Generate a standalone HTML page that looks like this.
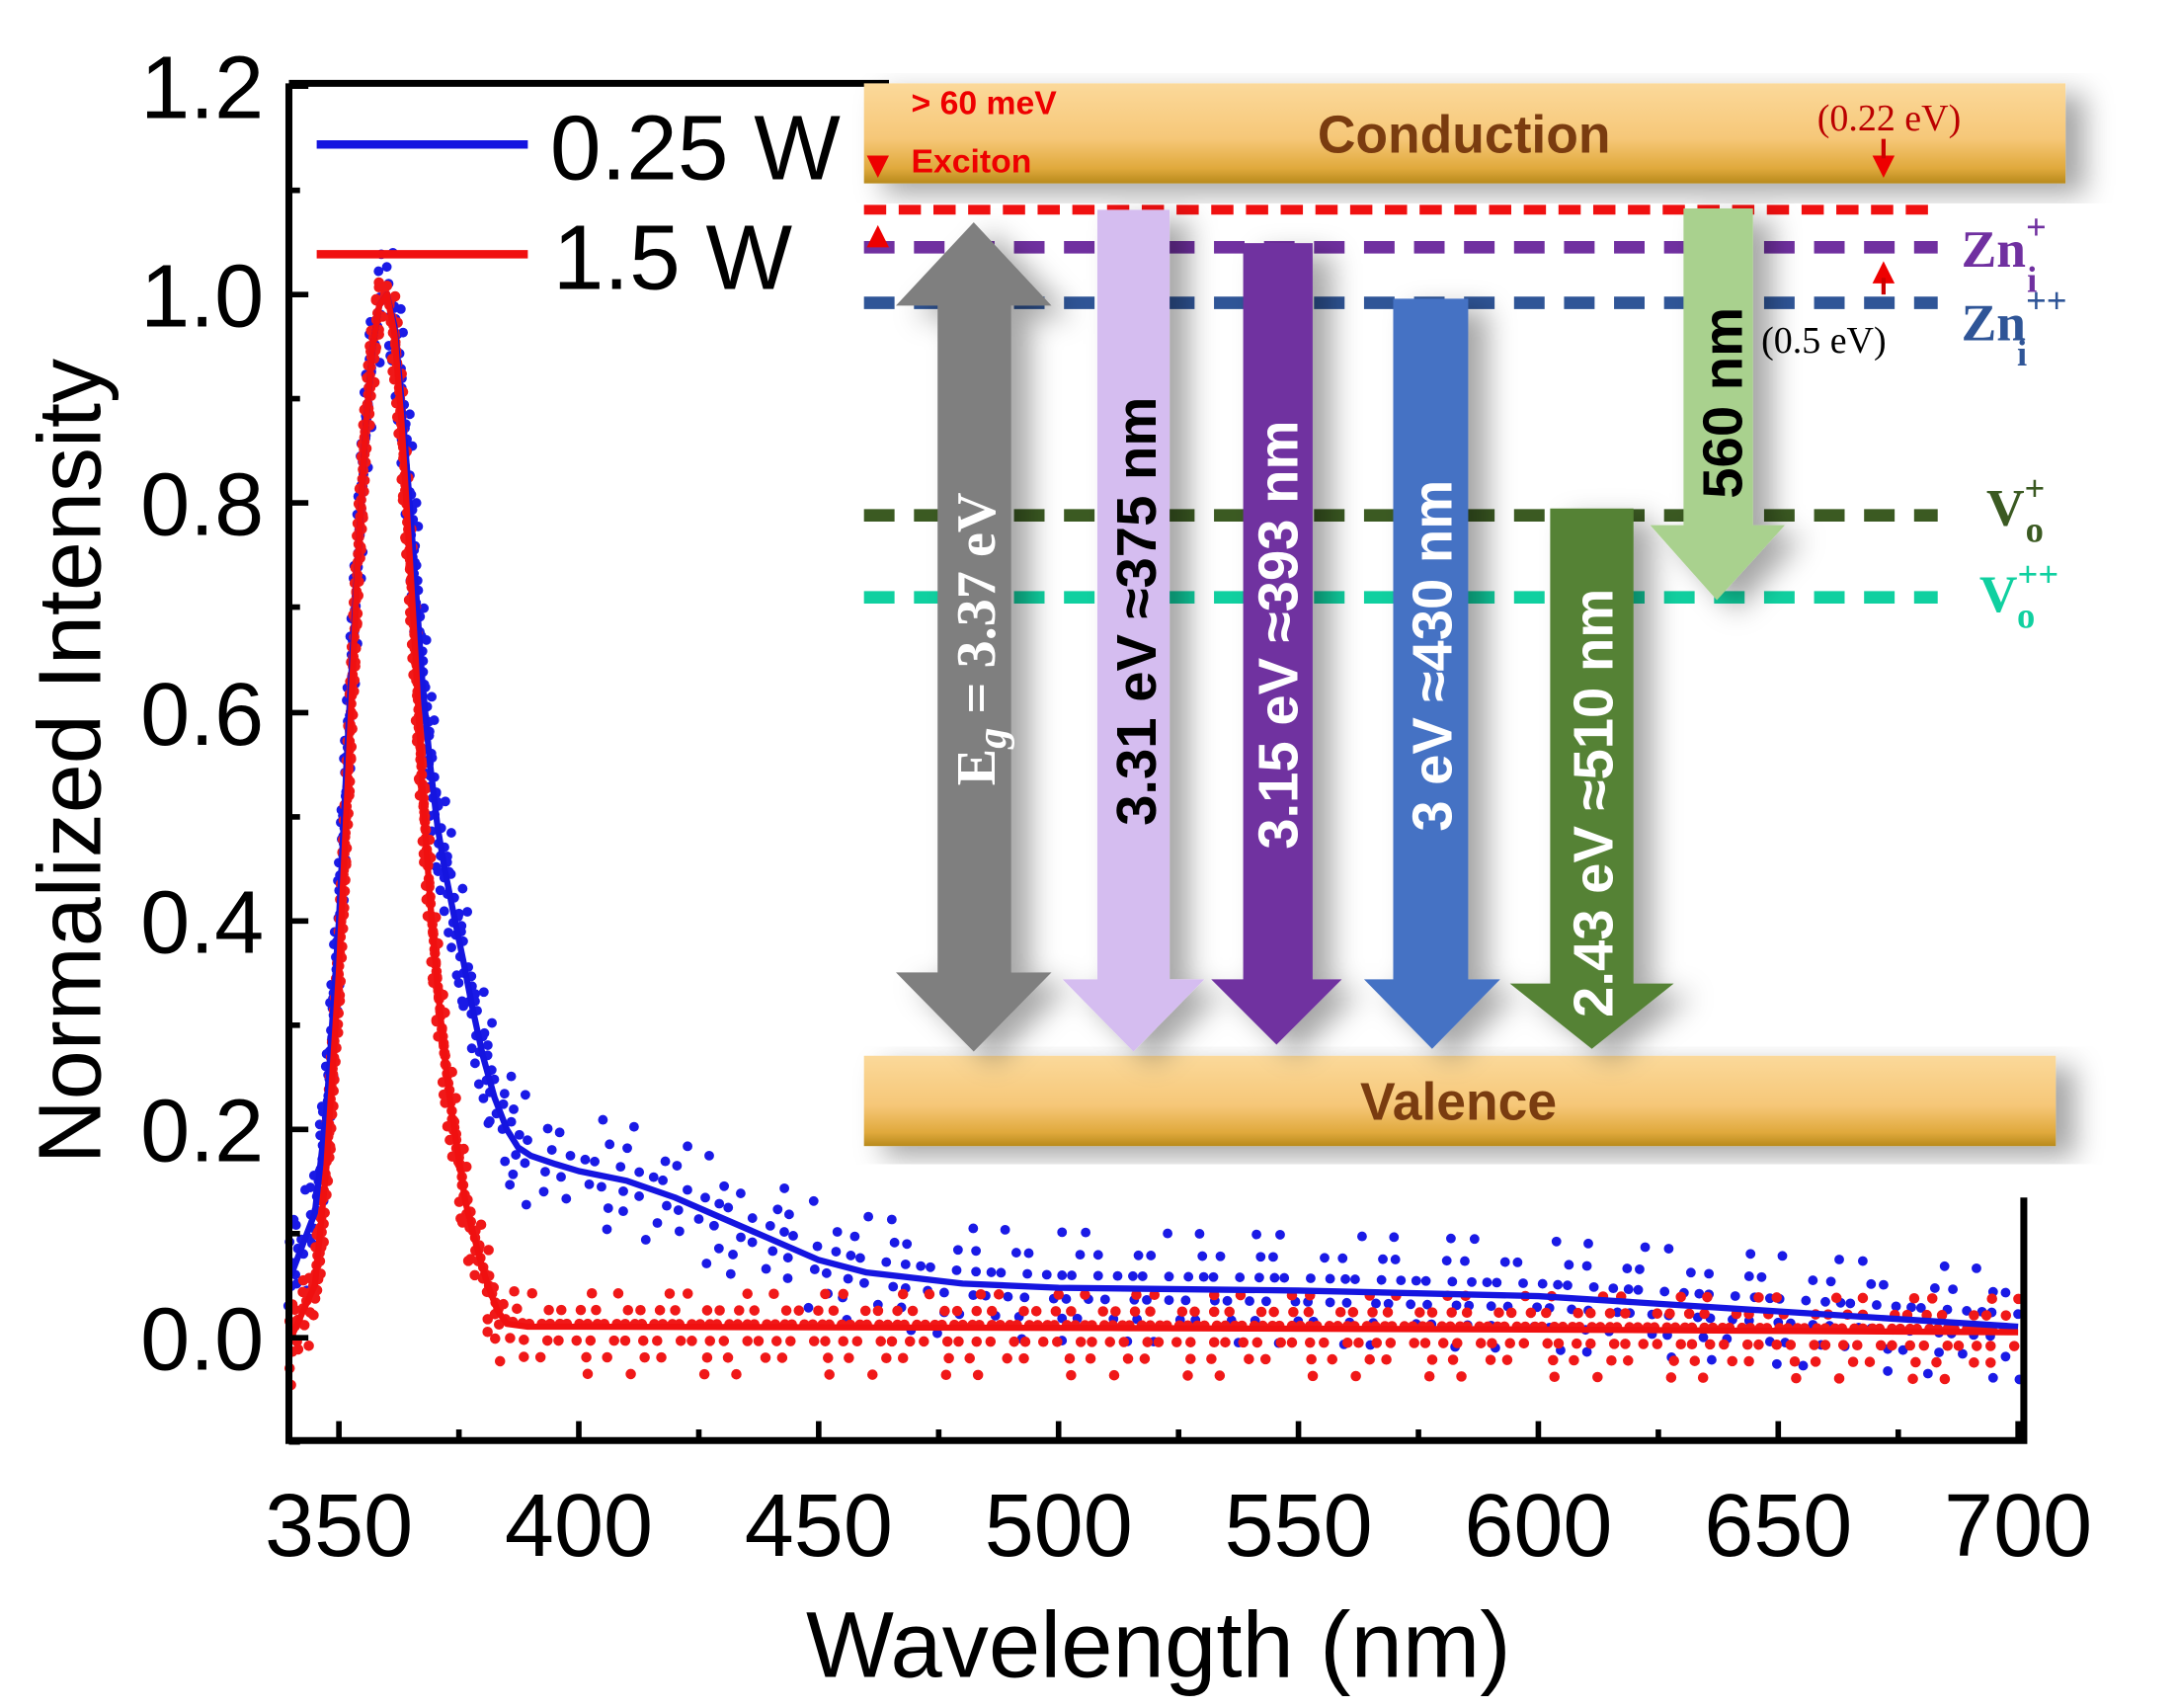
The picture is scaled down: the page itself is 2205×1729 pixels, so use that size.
<!DOCTYPE html>
<html><head><meta charset="utf-8"><style>html,body{margin:0;padding:0;background:#fff}svg{display:block}</style></head>
<body>
<svg width="2205" height="1729" viewBox="0 0 1568 1229.5" xmlns="http://www.w3.org/2000/svg" font-family="Liberation Sans, sans-serif">
<defs>
<linearGradient id="band" x1="0" y1="0" x2="0" y2="1">
<stop offset="0" stop-color="#fbd99a"/><stop offset="0.55" stop-color="#f6c778"/><stop offset="0.85" stop-color="#e0a93c"/><stop offset="1" stop-color="#b88a1c"/></linearGradient>
<filter id="sh" x="-30%" y="-10%" width="170%" height="130%"><feDropShadow dx="14" dy="8" stdDeviation="10" flood-color="#000" flood-opacity="0.35"/></filter>
<path id="bc" d="M209.5,918 L226.7,873 L235,800 L244,663 L251,520 L257.8,400 L263,310 L268.2,250 L273,220 L278.5,212 L284,235 L288.9,287 L294,350 L299.3,422 L304,490 L309.6,550 L315,595 L320,625 L327,660 L333.8,693 L340,725 L347.6,760 L356,790 L364.9,813 L373,826 L382.2,832 L400,838 L416.7,843 L451.2,850 L485.8,862 L520.3,877 L554.9,892 L589.4,907 L623.9,916 L693,924 L762.1,927 L934.8,929 L1107.5,933 L1280.2,944 L1452.9,955"/>
<path id="rc" d="M209.5,963 L226.7,925 L235,840 L244,700 L251,550 L257.8,400 L263,310 L268.2,250 L273,220 L278.5,212 L284,240 L288.9,302 L294,385 L299.3,475 L304,565 L309.6,648 L315,710 L320,760 L325,800 L330.4,835 L335,865 L340.7,888 L346,908 L351.1,925 L358,943 L364.9,953 L380,955 L416.7,955 L800,956 L1100,957 L1452.9,959"/>
</defs>
<rect width="1568" height="1230" fill="#fff"/>
<g fill="none" stroke="#1a1ae6" stroke-linecap="round" stroke-width="7">
<use href="#bc" transform="translate(2,-40)" stroke-dasharray="0 23 0 41 0 17 0 59"/>
<use href="#bc" transform="translate(-1,-24)" stroke-dasharray="0 13 0 29 0 9 0 37"/>
<use href="#bc" transform="translate(1,-9)" stroke-dasharray="0 11 0 7 0 19 0 14"/>
<use href="#bc" transform="translate(0,8)" stroke-dasharray="0 9 0 16 0 12 0 21"/>
<use href="#bc" transform="translate(-2,22)" stroke-dasharray="0 17 0 31 0 11 0 26"/>
<use href="#bc" transform="translate(1,38)" stroke-dasharray="0 29 0 47 0 19 0 61"/>
</g>
<g fill="none" stroke="#f01818" stroke-linecap="round" stroke-width="7.5">
<use href="#rc" transform="translate(1,-24)" stroke-dasharray="0 19 0 37 0 13 0 43"/>
<use href="#rc" transform="translate(-1,-12)" stroke-dasharray="0 9 0 14 0 11 0 23"/>
<use href="#rc" transform="translate(0,-2)" stroke-dasharray="0 7 0 5 0 9 0 6"/>
<use href="#rc" transform="translate(1,10)" stroke-dasharray="0 8 0 13 0 10 0 17"/>
<use href="#rc" transform="translate(-1,22)" stroke-dasharray="0 15 0 27 0 12 0 33"/>
<use href="#rc" transform="translate(0,34)" stroke-dasharray="0 31 0 53 0 23 0 67"/>
</g>
<use href="#bc" fill="none" stroke="#1515e0" stroke-width="4.5" stroke-linejoin="round"/>
<use href="#rc" fill="none" stroke="#f01010" stroke-width="4.5" stroke-linejoin="round"/>
<g stroke="#000" stroke-width="5" fill="none">
<path d="M208,60 H640 M208,60 V1037 H1457 V862"/>
</g>
<g stroke="#000" stroke-width="4">
<path d="M208,62H222 M208,212H222 M208,362H222 M208,513H222 M208,663H222 M208,813H222 M208,963H222"/>
<path d="M208,137H216 M208,287H216 M208,437H216 M208,588H216 M208,738H216 M208,888H216 M208,1038H216"/>
<path d="M244,1037V1023 M416.7,1037V1023 M589.4,1037V1023 M762.1,1037V1023 M934.8,1037V1023 M1107.5,1037V1023 M1280.2,1037V1023 M1452.9,1037V1023"/>
<path d="M330.4,1037V1029 M503.1,1037V1029 M675.8,1037V1029 M848.5,1037V1029 M1021.2,1037V1029 M1193.9,1037V1029 M1366.6,1037V1029"/>
</g>
<g font-size="64" text-anchor="end">
<text x="190" y="85">1.2</text><text x="190" y="235">1.0</text><text x="190" y="385">0.8</text><text x="190" y="536">0.6</text><text x="190" y="686">0.4</text><text x="190" y="836">0.2</text><text x="190" y="986">0.0</text>
</g>
<g font-size="64" text-anchor="middle">
<text x="244" y="1120">350</text><text x="416.7" y="1120">400</text><text x="589.4" y="1120">450</text><text x="762.1" y="1120">500</text><text x="934.8" y="1120">550</text><text x="1107.5" y="1120">600</text><text x="1280.2" y="1120">650</text><text x="1452.9" y="1120">700</text>
</g>
<text x="834" y="1207" font-size="67" text-anchor="middle">Wavelength (nm)</text>
<text transform="translate(72,548) rotate(-90)" font-size="64" text-anchor="middle">Normalized Intensity</text>
<line x1="228" y1="104" x2="380" y2="104" stroke="#1515e0" stroke-width="6"/>
<text x="396" y="129" font-size="66">0.25 W</text>
<line x1="228" y1="183" x2="380" y2="183" stroke="#f01010" stroke-width="6"/>
<text x="398" y="208" font-size="66">1.5 W</text>
<g font-family="Liberation Sans Narrow, Liberation Sans, sans-serif" font-weight="bold">
<rect x="622" y="60" width="865" height="72" fill="url(#band)" filter="url(#sh)"/>
<text x="1054" y="110" font-size="38" fill="#7a3c10" text-anchor="middle">Conduction</text>
<text x="656" y="82" font-size="24" fill="#e00">&gt; 60 meV</text>
<text x="656" y="124" font-size="24" fill="#e00">Exciton</text>
<text x="1360" y="94" font-size="27" fill="#b00" font-family="Liberation Serif, serif" font-weight="normal" text-anchor="middle">(0.22 eV)</text>
<rect x="622" y="760" width="858" height="65" fill="url(#band)" filter="url(#sh)"/>
<text x="1050" y="806" font-size="38" fill="#7a3c10" text-anchor="middle">Valence</text>
<g stroke-width="9" fill="none">
<line x1="622" y1="151" x2="1395" y2="151" stroke="#f01010" stroke-dasharray="16,9" stroke-width="7"/>
<line x1="622" y1="178" x2="1395" y2="178" stroke="#7030a0" stroke-dasharray="22,14"/>
<line x1="622" y1="218" x2="1395" y2="218" stroke="#2f5597" stroke-dasharray="22,14"/>
<line x1="622" y1="371" x2="1395" y2="371" stroke="#3b5a22" stroke-dasharray="22,14"/>
<line x1="622" y1="430" x2="1395" y2="430" stroke="#10d0a0" stroke-dasharray="22,14"/>
</g>
<g fill="#e00"><path d="M624,112 h16 l-8,16z"/><path d="M624,178 h16 l-8,-16z"/><path d="M1348,112 h16 l-8,16z"/><path d="M1348,204 h16 l-8,-16z"/></g>
<line x1="1356" y1="100" x2="1356" y2="114" stroke="#c00" stroke-width="3"/>
<line x1="1356" y1="200" x2="1356" y2="212" stroke="#c00" stroke-width="3"/>
<g filter="url(#sh)">
<path d="M701,160 L757,220 H728 V700 H757 L701,757 L645,700 H675 V220 H645Z" fill="#7f7f7f"/>
<path d="M790,151 H842 V705 H867 L816,757 L765,705 H790Z" fill="#d5bdf0"/>
<path d="M895,175 H945 V705 H966 L919,752 L872,705 H895Z" fill="#7030a0"/>
<path d="M1003,215 H1057 V705 H1080 L1031,755 L982,705 H1003Z" fill="#4472c4"/>
<path d="M1116,366 H1176 V708 H1205 L1146,755 L1087,708 H1116Z" fill="#548235"/>
<path d="M1212,150 H1262 V378 H1285 L1236,432 L1188,378 H1212Z" fill="#a9d18e"/>
</g>
<g font-size="40">
<text transform="translate(716,460) rotate(-90)" fill="#fff" text-anchor="middle" font-family="Liberation Serif, serif">E<tspan font-style="italic" dy="8" font-size="30">g</tspan><tspan dy="-8"> = 3.37 eV</tspan></text>
<text transform="translate(832,440) rotate(-90)" fill="#000" text-anchor="middle">3.31 eV  ≈375 nm</text>
<text transform="translate(934,457) rotate(-90)" fill="#fff" text-anchor="middle">3.15 eV ≈393 nm</text>
<text transform="translate(1045,472) rotate(-90)" fill="#fff" text-anchor="middle">3 eV  ≈430 nm</text>
<text transform="translate(1161,578) rotate(-90)" fill="#fff" text-anchor="middle">2.43 eV  ≈510 nm</text>
<text transform="translate(1254,290) rotate(-90)" fill="#000" text-anchor="middle">560 nm</text>
</g>
<g font-family="Liberation Serif, serif" font-size="38">
<text x="1412" y="192" fill="#7030a0">Zn<tspan font-size="26" dy="-20">+</tspan><tspan font-size="26" dx="-14" dy="38">i</tspan></text>
<text x="1412" y="245" fill="#2f5597">Zn<tspan font-size="26" dy="-20">++</tspan><tspan font-size="26" dx="-36" dy="38">i</tspan></text>
<text x="1430" y="378" fill="#3b5a22">V<tspan font-size="26" dy="-18">+</tspan><tspan font-size="26" dx="-14" dy="30">o</tspan></text>
<text x="1425" y="440" fill="#10d0a0">V<tspan font-size="26" dy="-18">++</tspan><tspan font-size="26" dx="-30" dy="30">o</tspan></text>
<text x="1268" y="254" fill="#000" font-size="27" font-weight="normal">(0.5 eV)</text>
</g>
</g>
</svg>
</body></html>
